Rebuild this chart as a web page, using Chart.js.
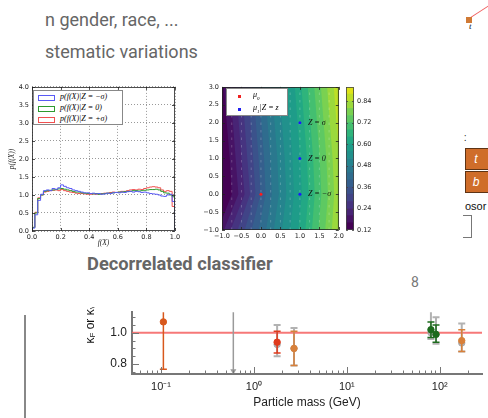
<!DOCTYPE html>
<html>
<head>
<meta charset="utf-8">
<script src="https://cdn.jsdelivr.net/npm/chart.js@4.4.1/dist/chart.umd.min.js"></script>
<style>
  html, body { margin: 0; padding: 0; background: #fff; }
  body { width: 488px; height: 418px; position: relative; overflow: hidden; font-family: Roboto, 'Liberation Sans', sans-serif; }
  canvas { position: absolute; }
  .txt { position: absolute; white-space: nowrap; }
  .slide { color: #666; font-size: 18px; line-height: 20px; }
  .math { font-family: 'Liberation Serif', 'DejaVu Serif', serif; font-style: italic; }
  .legend { position: absolute; background: #fff; border: 1px solid #888; box-sizing: border-box; }
  .swatch { position: absolute; width: 15px; height: 4px; border: 1px solid; }
  .dot { position: absolute; width: 3px; height: 3px; }
  .box { position: absolute; left: 465px; width: 26px; background: #cf6d2a; border: 1px solid #5e3415; box-sizing: border-box;
         color: #fff; font: italic 12px 'Liberation Sans', sans-serif; text-align: center; padding-right: 4px; }
</style>
</head>
<body>

<!-- slide text around the figures -->
<div class="txt slide" style="left:45px; top:10px;">n gender, race, ...</div>
<div class="txt slide" style="left:45px; top:42px;">stematic variations</div>
<div class="txt" style="left:87px; top:253px; color:#666; font-size:18.3px; font-weight:bold; line-height:22px;">Decorrelated classifier</div>
<div class="txt" style="left:411px; top:273px; color:#777; font-size:14px; line-height:18px;">8</div>
<div style="position:absolute; left:24px; top:315px; width:1.5px; height:103px; background:#888;"></div>

<!-- bits of the neighbouring diagram on the right -->
<div style="position:absolute; left:469px; top:18px; width:26px; height:1.3px; background:#f06060; transform-origin:0 0; transform:rotate(-33deg);"></div>
<div style="position:absolute; left:466px; top:17px; width:6px; height:6px; background:#d07a35;"></div>
<div class="txt math" style="left:469px; top:21px; font-size:9px; color:#111;">t</div>
<div class="txt" style="left:464px; top:132px; font-size:10px; color:#222;">:</div>
<div class="box" style="top:148px; height:22px; line-height:20px;">t</div>
<div class="box" style="top:171px; height:22px; line-height:20px;">b</div>
<div class="txt" style="left:465px; top:200px; font-size:11px; color:#111; font-family:'Liberation Sans', sans-serif;">osor</div>
<div style="position:absolute; left:463px; top:215px; width:8px; height:21px; border:1.5px solid #777; border-left:none;"></div>

<canvas id="hist" width="190" height="170" style="left:0; top:80px;"></canvas>
<canvas id="contour" width="156" height="170" style="left:190px; top:80px;"></canvas>
<canvas id="cbar" width="44" height="170" style="left:340px; top:80px;"></canvas>
<canvas id="kappa" width="392" height="118" style="left:96px; top:300px;"></canvas>

<!-- histogram legend -->
<div class="legend" style="left:33px; top:90px; width:90px; height:35px;">
  <div class="swatch" style="left:4px; top:4px; border-color:#5a5af5;"></div>
  <div class="txt math" style="left:26px; top:1px; font-size:8px;">p(f(X)|Z = −σ)</div>
  <div class="swatch" style="left:4px; top:15px; border-color:#2e9a2e;"></div>
  <div class="txt math" style="left:26px; top:12px; font-size:8px;">p(f(X)|Z = 0)</div>
  <div class="swatch" style="left:4px; top:26px; border-color:#f05050;"></div>
  <div class="txt math" style="left:26px; top:23px; font-size:8px;">p(f(X)|Z = +σ)</div>
</div>

<!-- contour legend -->
<div class="legend" style="left:226px; top:88px; width:62px; height:28px;">
  <div class="dot" style="left:11px; top:6px; background:#f02020;"></div>
  <div class="txt math" style="left:26px; top:1px; font-size:8px;">μ<sub style="font-size:5px;">0</sub></div>
  <div class="dot" style="left:11px; top:19px; background:#2020f0;"></div>
  <div class="txt math" style="left:26px; top:14px; font-size:8px;">μ<sub style="font-size:5px;">1</sub>|Z = z</div>
</div>

<!-- kappa axis title, cut off at the top like the slide crop -->
<div style="position:absolute; left:83px; top:307px; width:16px; height:37px; overflow:hidden;">
  <div style="position:absolute; bottom:0; left:0; writing-mode:vertical-rl; transform:rotate(180deg); font:12px 'Liberation Sans', sans-serif; color:#111; white-space:nowrap;">κ<sub style="font-size:8px;">F</sub> or κ<sub style="font-size:8px;">V</sub></div>
</div>

<script>
// ---------- histogram p(f(X)|Z) ----------
const histEdges = [0, 0.02, 0.04, 0.06, 0.08, 0.1, 0.12, 0.14, 0.16, 0.18, 0.2, 0.22, 0.24, 0.26, 0.28, 0.3, 0.32, 0.34, 0.36, 0.38,
  0.4, 0.42, 0.44, 0.46, 0.48, 0.5, 0.52, 0.54, 0.56, 0.58, 0.6, 0.62, 0.64, 0.66, 0.68, 0.7, 0.72, 0.74, 0.76, 0.78,
  0.8, 0.82, 0.84, 0.86, 0.88, 0.9, 0.92, 0.94, 0.96, 0.98, 1.0]
const histMinus = [0.08, 0.45, 0.85, 1.02, 1.12, 1.14, 1.12, 1.18, 1.16, 1.2, 1.28, 1.24, 1.2, 1.18, 1.14, 1.12, 1.1, 1.08, 1.06, 1.06,
  1.04, 1.05, 1.03, 1.04, 1.02, 1.03, 1.05, 1.04, 1.06, 1.07, 1.06, 1.08, 1.07, 1.09, 1.1, 1.08, 1.1, 1.09, 1.07, 1.08,
  1.06, 1.04, 1.03, 1.02, 1.0, 0.97, 0.96, 1.0, 1.02, 0.82]
const histNominal = [0.1, 0.5, 0.9, 1.0, 1.1, 1.12, 1.13, 1.14, 1.15, 1.17, 1.18, 1.16, 1.14, 1.12, 1.1, 1.08, 1.08, 1.06, 1.05, 1.04,
  1.04, 1.03, 1.04, 1.02, 1.03, 1.04, 1.05, 1.05, 1.06, 1.07, 1.08, 1.08, 1.09, 1.1, 1.1, 1.12, 1.12, 1.11, 1.12, 1.13,
  1.14, 1.15, 1.15, 1.16, 1.14, 1.1, 1.06, 1.05, 1.0, 0.95]
const histPlus = [0.1, 0.52, 0.92, 1.0, 1.08, 1.1, 1.12, 1.13, 1.14, 1.12, 1.15, 1.12, 1.1, 1.08, 1.07, 1.05, 1.04, 1.04, 1.03, 1.02,
  1.02, 1.03, 1.02, 1.03, 1.04, 1.05, 1.05, 1.07, 1.08, 1.07, 1.08, 1.1, 1.1, 1.12, 1.14, 1.15, 1.14, 1.16, 1.15, 1.18,
  1.2, 1.22, 1.23, 1.22, 1.2, 1.14, 1.1, 1.12, 1.1, 0.68]

// ---------- contour of the classifier output ----------
const contourLevels = [0.12, 0.16, 0.20, 0.24, 0.28, 0.32, 0.36, 0.40, 0.44, 0.48, 0.52, 0.56, 0.60, 0.64, 0.68, 0.72, 0.76, 0.80, 0.84, 0.88, 0.92]
const bandColors = ['#440154', '#471365', '#482475', '#463480', '#414487', '#3b528b', '#355f8d', '#2f6c8e', '#2a788e', '#25848e',
  '#21918c', '#1e9c89', '#22a884', '#2fb47c', '#44bf70', '#5ec962', '#7ad151', '#9bd93c', '#bddf26', '#dfe318']
const contourY = [-1, 0, 1, 2, 3]
// x position of each level line (0.16 ... 0.88) at contourY
const contourX = [
  [-1.1, -0.75, -0.8, -0.88, -0.95],
  [-0.95, -0.58, -0.65, -0.72, -0.8],
  [-0.78, -0.42, -0.5, -0.57, -0.64],
  [-0.6, -0.28, -0.35, -0.42, -0.49],
  [-0.42, -0.14, -0.2, -0.27, -0.34],
  [-0.24, -0.01, -0.06, -0.13, -0.2],
  [-0.06, 0.12, 0.08, 0.01, -0.06],
  [0.13, 0.28, 0.24, 0.17, 0.1],
  [0.33, 0.46, 0.42, 0.35, 0.28],
  [0.54, 0.65, 0.61, 0.54, 0.47],
  [0.75, 0.85, 0.81, 0.74, 0.67],
  [0.96, 1.05, 1.01, 0.94, 0.87],
  [1.14, 1.22, 1.18, 1.11, 1.04],
  [1.31, 1.38, 1.34, 1.27, 1.2],
  [1.48, 1.55, 1.51, 1.44, 1.37],
  [1.65, 1.72, 1.68, 1.61, 1.54],
  [1.82, 1.88, 1.84, 1.77, 1.7],
  [1.99, 2.05, 2.01, 1.94, 1.87],
  [2.16, 2.22, 2.18, 2.11, 2.04]
]
const contourXLim = [-1, 2]
const contourYLim = [-1, 3]
const quiverX = [-0.75, -0.5, -0.25, 0, 0.25, 0.5, 0.75, 1.0, 1.25, 1.5, 1.75]
const mu0 = [{ x: 0, y: 0 }]
const mu1 = [{ x: 1, y: 2 }, { x: 1, y: 1 }, { x: 1, y: 0 }]
const mu1Labels = ['Z = σ', 'Z = 0', 'Z = −σ']

// ---------- coupling modifiers vs particle mass ----------
const massAxis = [0.0487, 285]
const kappaAxis = [0.736, 1.132]
const massDecades = [0.1, 1, 10, 100]
const massDecadeLabels = ['10⁻¹', '10⁰', '10¹', '10²']
const smKappa = 1.0
const muonMass = [0.106], muonKappa = [1.07], muonLo = [0.766], muonHi = [1.25]
const tauMass = [1.777], tauKappa = [0.94], tauLo = [0.87], tauHi = [1.01]
const quarkMass = [2.7, 172.5], quarkKappa = [0.9, 0.95], quarkLo = [0.79, 0.88], quarkHi = [1.01, 1.02]
const bosonMass = [80.4, 91.2], bosonKappa = [1.02, 0.99], bosonLo = [0.97, 0.94], bosonHi = [1.07, 1.05]
const altMass = [1.777, 2.7, 80.4, 91.2, 172.5]
const altKappa = [0.925, 0.9, 1.0, 0.99, 0.935]
const altLo = [0.85, 0.79, 0.96, 0.93, 0.88]
const altHi = [1.05, 1.03, 1.14, 1.1, 1.06]
const limitMass = 0.6, limitKappa = 0.755

// ---------- helpers ----------
const pairs = (xs, ys) => xs.map((x, i) => ({ x, y: ys[i] }))

function stepData(values) {
  const pts = [{ x: histEdges[0], y: 0 }]
  values.forEach((v, i) => pts.push({ x: histEdges[i], y: v }))
  pts.push({ x: histEdges[histEdges.length - 1], y: 0 })
  return pts
}

// inward tick marks + optional frame, matplotlib style
const axisDecor = {
  id: 'axisDecor',
  afterDatasetsDraw(chart, args, o) {
    const { ctx, chartArea: a } = chart
    ctx.save()
    ctx.strokeStyle = o.color
    ctx.lineWidth = o.width
    if (o.frame) ctx.strokeRect(a.left + 0.5, a.top + 0.5, a.right - a.left - 1, a.bottom - a.top - 1)
    o.axes.forEach(id => {
      const s = chart.scales[id]
      s.ticks.forEach(t => {
        const v = t.value
        let len = o.major
        if (o.mode === 'log' && id === 'x') {
          const sig = v / Math.pow(10, Math.floor(Math.log10(v) + 1e-9))
          if (Math.abs(sig - Math.round(sig)) > 1e-6) return
          len = Math.round(sig) === 1 ? o.major : o.minor
        } else if (o.mode === 'log') {
          len = Math.abs(v * 5 - Math.round(v * 5)) < 1e-6 ? o.major : o.minor
        }
        const p = Math.round(s.getPixelForValue(v)) + 0.5
        ctx.beginPath()
        if (id === 'x') {
          ctx.moveTo(p, a.bottom); ctx.lineTo(p, a.bottom - len)
          if (o.mirror) { ctx.moveTo(p, a.top); ctx.lineTo(p, a.top + len) }
        } else {
          ctx.moveTo(a.left, p); ctx.lineTo(a.left + len, p)
          if (o.mirror) { ctx.moveTo(a.right, p); ctx.lineTo(a.right - len, p) }
        }
        ctx.stroke()
      })
    })
    ctx.restore()
  }
}

const pointText = {
  id: 'pointText',
  afterDatasetsDraw(chart) {
    const { ctx } = chart
    chart.data.datasets.forEach((ds, i) => {
      if (!ds.pointText) return
      ctx.save()
      ctx.font = 'italic 8px "Liberation Serif"'
      ctx.fillStyle = '#111'
      ctx.textBaseline = 'middle'
      chart.getDatasetMeta(i).data.forEach((el, j) => ctx.fillText(ds.pointText[j], el.x + 8, el.y))
      ctx.restore()
    })
  }
}

const errorBars = {
  id: 'errorBars',
  beforeDatasetDraw(chart, args) {
    const ds = chart.data.datasets[args.index]
    if (!ds.errLo) return
    const { ctx, chartArea: a, scales: { x, y } } = chart
    ctx.save()
    ctx.beginPath()
    ctx.rect(a.left, a.top, a.right - a.left, a.bottom - a.top)
    ctx.clip()
    ctx.strokeStyle = ds.borderColor
    ctx.lineWidth = ds.errWidth || 1.5
    ds.data.forEach((p, i) => {
      const px = x.getPixelForValue(p.x)
      const lo = y.getPixelForValue(ds.errLo[i])
      const hi = y.getPixelForValue(ds.errHi[i])
      ctx.beginPath()
      ctx.moveTo(px, lo); ctx.lineTo(px, hi)
      ctx.moveTo(px - 3.5, lo); ctx.lineTo(px + 3.5, lo)
      ctx.moveTo(px - 3.5, hi); ctx.lineTo(px + 3.5, hi)
      ctx.stroke()
    })
    ctx.restore()
  }
}

const smallTicks = { family: 'DejaVu Sans', size: 6.5 }
const fixedWidth = w => s => { s.width = w }
const fixedHeight = h => s => { s.height = h }
const base = { responsive: false, animation: false, devicePixelRatio: 1, events: [] }

// ---------- histogram ----------
new Chart(document.getElementById('hist'), {
  type: 'line',
  data: {
    datasets: [
      { data: stepData(histMinus), borderColor: '#5a5af5' },
      { data: stepData(histNominal), borderColor: '#2e9a2e' },
      { data: stepData(histPlus), borderColor: '#f05050' }
    ].map(d => Object.assign(d, { stepped: 'before', borderWidth: 1, pointRadius: 0, fill: false }))
  },
  plugins: [axisDecor],
  options: {
    ...base,
    layout: { padding: { top: 4, right: 15, left: 0, bottom: 0 } },
    plugins: {
      legend: { display: false }, tooltip: { enabled: false },
      axisDecor: { color: '#222', width: 0.8, frame: true, mirror: true, major: 3, axes: ['x', 'y'], mode: 'lin' }
    },
    scales: {
      x: {
        type: 'linear', min: 0, max: 1, afterFit: fixedHeight(19),
        ticks: { stepSize: 0.2, font: smallTicks, color: '#222', padding: 2, maxRotation: 0, callback: v => v.toFixed(1) },
        grid: { color: 'rgba(0,0,0,0.4)', drawTicks: false }, border: { display: false, dash: [1, 2] },
        title: { display: true, text: 'f(X)', color: '#222', padding: { top: 0, bottom: 2.5 },
          font: { family: 'Liberation Serif', style: 'italic', size: 7.5 } }
      },
      y: {
        min: 0, max: 4, afterFit: fixedWidth(32),
        ticks: { stepSize: 0.5, font: smallTicks, color: '#222', padding: 3, callback: v => v.toFixed(1) },
        grid: { color: 'rgba(0,0,0,0.4)', drawTicks: false }, border: { display: false, dash: [1, 2] },
        title: { display: true, text: 'p(f(X))', color: '#222', padding: { top: 8, bottom: 0 },
          font: { family: 'Liberation Serif', style: 'italic', size: 7.5 } }
      }
    }
  }
})

// ---------- contour ----------
const ext = 0.2
const bandSets = bandColors.map((color, k) => {
  let pts
  if (k === 0) {
    pts = [
      { x: contourXLim[0] - ext, y: contourYLim[0] - ext }, { x: contourXLim[1] + ext, y: contourYLim[0] - ext },
      { x: contourXLim[1] + ext, y: contourYLim[1] + ext }, { x: contourXLim[0] - ext, y: contourYLim[1] + ext }
    ]
  } else {
    const b = contourX[k - 1]
    if (!b) return null
    pts = [{ x: b[0], y: contourYLim[0] - ext }]
      .concat(pairs(b, contourY))
      .concat([
        { x: b[b.length - 1], y: contourYLim[1] + ext },
        { x: contourXLim[1] + ext, y: contourYLim[1] + ext },
        { x: contourXLim[1] + ext, y: contourYLim[0] - ext }
      ])
  }
  return { data: pts, fill: 'shape', backgroundColor: color, borderWidth: 0, pointRadius: 0, order: 100 - k }
}).filter(Boolean)

const quiverSets = quiverX.map(x => ({
  data: [{ x, y: contourYLim[0] }, { x, y: contourYLim[1] }],
  borderColor: 'rgba(255,255,255,0.22)', borderWidth: 1, borderDash: [2.5, 5], pointRadius: 0, fill: false, order: 5
}))

new Chart(document.getElementById('contour'), {
  type: 'line',
  data: {
    datasets: bandSets.concat(quiverSets).concat([
      { data: mu0, showLine: false, pointRadius: 1.5, pointBackgroundColor: '#ff1a1a', pointBorderWidth: 0, order: 0 },
      { data: mu1, showLine: false, pointRadius: 1.5, pointBackgroundColor: '#1a1aff', pointBorderWidth: 0, order: 0, pointText: mu1Labels }
    ])
  },
  plugins: [axisDecor, pointText],
  options: {
    ...base,
    layout: { padding: { top: 4, right: 7, left: 0, bottom: 0 } },
    plugins: {
      legend: { display: false }, tooltip: { enabled: false },
      axisDecor: { color: '#222', width: 0.8, frame: true, mirror: true, major: 3, axes: ['x', 'y'], mode: 'lin' }
    },
    scales: {
      x: {
        type: 'linear', min: contourXLim[0], max: contourXLim[1], afterFit: fixedHeight(20),
        ticks: { stepSize: 0.5, font: smallTicks, color: '#222', padding: 2, maxRotation: 0,
          callback: v => v.toFixed(1).replace('-', '−') },
        grid: { display: false, drawTicks: false }, border: { display: false }
      },
      y: {
        min: contourYLim[0], max: contourYLim[1], afterFit: fixedWidth(32),
        ticks: { stepSize: 0.5, font: smallTicks, color: '#222', padding: 3,
          callback: v => v.toFixed(1).replace('-', '−') },
        grid: { display: false, drawTicks: false }, border: { display: false }
      }
    }
  }
})

// ---------- colour bar ----------
new Chart(document.getElementById('cbar'), {
  type: 'bar',
  data: {
    labels: [''],
    datasets: bandColors.map((c, i) => ({
      data: [[contourLevels[i], contourLevels[i + 1]]], backgroundColor: c,
      barPercentage: 1, categoryPercentage: 1, borderWidth: 0, grouped: false
    }))
  },
  plugins: [axisDecor],
  options: {
    ...base,
    layout: { padding: { top: 4, right: 0, left: 6, bottom: 20 } },
    plugins: {
      legend: { display: false }, tooltip: { enabled: false },
      axisDecor: { color: '#444', width: 0.8, frame: true, mirror: true, major: 2, axes: ['y'], mode: 'lin' }
    },
    scales: {
      x: { display: false },
      y: {
        position: 'right', min: contourLevels[0], max: contourLevels[contourLevels.length - 1], afterFit: fixedWidth(30),
        ticks: { stepSize: 0.12, includeBounds: false, font: smallTicks, color: '#222', padding: 3, callback: v => v.toFixed(2) },
        grid: { display: false, drawTicks: false }, border: { display: false }
      }
    }
  }
})

// ---------- kappa vs mass ----------
const pointDs = (mass, kappa, lo, hi, color, order) => ({
  data: pairs(mass, kappa), errLo: lo, errHi: hi, showLine: false,
  borderColor: color, pointBackgroundColor: color, pointBorderColor: color, pointRadius: 3.2, order
})

new Chart(document.getElementById('kappa'), {
  type: 'line',
  data: {
    datasets: [
      { data: [{ x: massAxis[0], y: smKappa }, { x: massAxis[1], y: smKappa }], borderColor: 'rgba(244,96,96,0.85)',
        borderWidth: 2, pointRadius: 0, fill: false, order: 10 },
      { data: [{ x: limitMass, y: kappaAxis[1] + 0.05 }, { x: limitMass, y: limitKappa }], borderColor: '#9a9a9a',
        borderWidth: 1.5, pointRadius: [0, 3.5], pointStyle: 'triangle', pointRotation: 180,
        pointBackgroundColor: '#9a9a9a', pointBorderWidth: 0, fill: false, order: 9 },
      Object.assign(pointDs(altMass, altKappa, altLo, altHi, 'rgba(165,165,165,0.85)', 8), { errWidth: 2 }),
      pointDs(muonMass, muonKappa, muonLo, muonHi, '#d8581c', 3),
      pointDs(tauMass, tauKappa, tauLo, tauHi, '#df3a1c', 3),
      pointDs(quarkMass, quarkKappa, quarkLo, quarkHi, '#d8803a', 3),
      pointDs(bosonMass, bosonKappa, bosonLo, bosonHi, '#1d6b1d', 3)
    ]
  },
  plugins: [axisDecor, errorBars],
  options: {
    ...base,
    layout: { padding: { top: 8, right: 0, left: 0, bottom: 0 } },
    plugins: {
      legend: { display: false }, tooltip: { enabled: false },
      axisDecor: { color: '#777', width: 1, frame: false, mirror: false, major: 7, minor: 3.5, axes: ['x', 'y'], mode: 'log' }
    },
    scales: {
      x: {
        type: 'logarithmic', min: massAxis[0], max: massAxis[1], afterFit: fixedHeight(44),
        ticks: {
          autoSkip: false, maxRotation: 0, padding: 6, color: '#222', font: { family: 'Liberation Sans', size: 11 },
          callback: v => {
            const i = massDecades.findIndex(d => Math.abs(v / d - 1) < 1e-6)
            return i >= 0 ? massDecadeLabels[i] : ''
          }
        },
        grid: { display: false, drawTicks: false }, border: { display: true, color: '#777', width: 2 },
        title: { display: true, text: 'Particle mass (GeV)', color: '#222', padding: { top: 0, bottom: 8 },
          font: { family: 'Liberation Sans', size: 12 } }
      },
      y: {
        min: kappaAxis[0], max: kappaAxis[1], afterFit: fixedWidth(36),
        ticks: {
          stepSize: 0.05, includeBounds: false, autoSkip: false, padding: 5, color: '#222',
          font: { family: 'Liberation Sans', size: 12 },
          callback: v => Math.abs(v * 5 - Math.round(v * 5)) < 1e-6 ? v.toFixed(1) : ''
        },
        grid: { display: false, drawTicks: false }, border: { display: true, color: '#777', width: 2 }
      }
    }
  }
})
</script>
</body>
</html>
